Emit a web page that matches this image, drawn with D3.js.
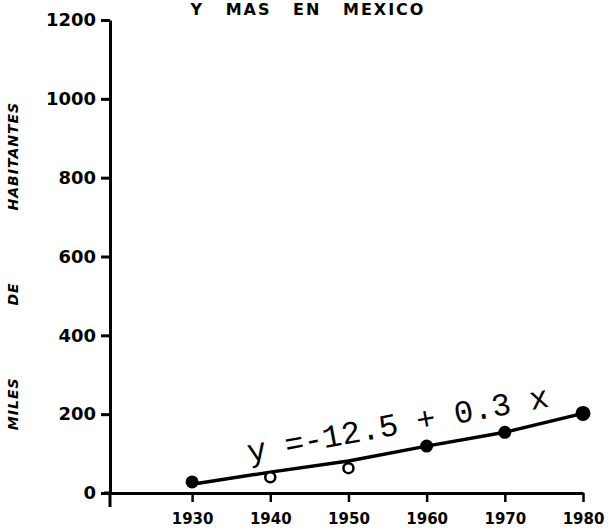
<!DOCTYPE html>
<html>
<head>
<meta charset="utf-8">
<script src="https://cdn.jsdelivr.net/npm/d3@7"></script>
<style>
  body { margin: 0; background: #fff; }
  svg { display: block; }
</style>
</head>
<body>
<svg width="614" height="528"></svg>
<script>
// data
var years = [1930, 1940, 1950, 1960, 1970, 1980];
var habitantes = [28, 40, 63, 119, 154, 202];     // miles de habitantes
var relleno = [true, false, false, true, true, true]; // filled vs open marker
var ajuste = [22, 53, 81, 119, 154, 202];          // fitted line
var yTicks = [0, 200, 400, 600, 800, 1000, 1200];
var titulo = "Y MAS EN MEXICO";
var ecuacion = "y =-12.5 + 0.3 x";
var ejeY = "MILES DE HABITANTES";

var svg = d3.select('svg');
var ink = '#000';

var x = d3.scaleLinear().domain([1919.5, 1980]).range([110, 583]);
var y = d3.scaleLinear().domain([0, 1200]).range([493, 20]);

// title (first line cut off by the scan)
svg.append('text')
    .attr('x', 308)
    .attr('y', 15)
    .attr('text-anchor', 'middle')
    .style('font-family', 'DejaVu Sans')
    .style('font-weight', 'bold')
    .style('font-size', '16px')
    .style('letter-spacing', '2px')
    .style('word-spacing', '14px')
    .text(titulo);

// y axis
var gy = svg.append('g')
    .attr('transform', 'translate(' + x(1919.5) + ',0)')
    .call(d3.axisLeft(y).tickValues(yTicks).tickSize(9).tickSizeOuter(0).tickPadding(5).tickFormat(d3.format('d')));
gy.select('.domain').attr('stroke-width', 3);
gy.selectAll('.tick line').attr('stroke-width', 3);
gy.selectAll('text')
    .style('font-family', 'DejaVu Sans')
    .style('font-weight', 'bold')
    .style('font-size', '18px')
    .attr('fill', ink);
gy.append('line')
    .attr('y1', y(0)).attr('y2', y(0) + 14)
    .attr('stroke', ink).attr('stroke-width', 3);

// x axis
var gx = svg.append('g')
    .attr('transform', 'translate(0,' + y(0) + ')')
    .call(d3.axisBottom(x).tickValues(years).tickSize(9).tickSizeOuter(0).tickPadding(11).tickFormat(d3.format('d')));
gx.select('.domain').attr('stroke-width', 3);
gx.selectAll('.tick line').attr('stroke-width', 2.5);
gx.selectAll('text')
    .style('font-family', 'DejaVu Sans')
    .style('font-weight', 'bold')
    .style('font-size', '15px')
    .attr('fill', ink);
gx.append('line')
    .attr('x1', x(1919.5) - 6).attr('x2', x(1919.5))
    .attr('stroke', ink).attr('stroke-width', 3);

// y axis title
svg.append('text')
    .attr('transform', 'translate(18,266) rotate(-90)')
    .attr('text-anchor', 'middle')
    .style('font-family', 'DejaVu Sans')
    .style('font-weight', 'bold')
    .style('font-style', 'italic')
    .style('font-size', '14px')
    .style('letter-spacing', '1px')
    .style('word-spacing', '66px')
    .text(ejeY);

// fitted line
var linea = d3.line()
    .x(function(d, i){ return x(years[i]); })
    .y(function(d){ return y(d); });

svg.append('path')
    .datum(ajuste)
    .attr('d', linea)
    .attr('fill', 'none')
    .attr('stroke', ink)
    .attr('stroke-width', 3.5)
    .attr('stroke-linejoin', 'round');

// observed points
svg.append('g')
    .selectAll('circle')
    .data(habitantes)
    .enter()
    .append('circle')
        .attr('cx', function(d, i){ return x(years[i]); })
        .attr('cy', function(d){ return y(d); })
        .attr('r', function(d, i){ return relleno[i] ? (i == 5 ? 7.5 : 6.5) : 5; })
        .attr('fill', function(d, i){ return relleno[i] ? ink : '#fff'; })
        .attr('stroke', ink)
        .attr('stroke-width', function(d, i){ return relleno[i] ? 0 : 2.5; });

// equation label
var ex0 = x(1937.3), ey0 = y(78);
svg.append('text')
    .attr('transform', 'translate(' + ex0 + ',' + ey0 + ') rotate(-10.5)')
    .attr('textLength', 306)
    .attr('lengthAdjust', 'spacing')
    .style('font-family', 'Liberation Mono')
    .style('font-size', '32px')
    .attr('fill', ink)
    .text(ecuacion);
</script>
</body>
</html>
